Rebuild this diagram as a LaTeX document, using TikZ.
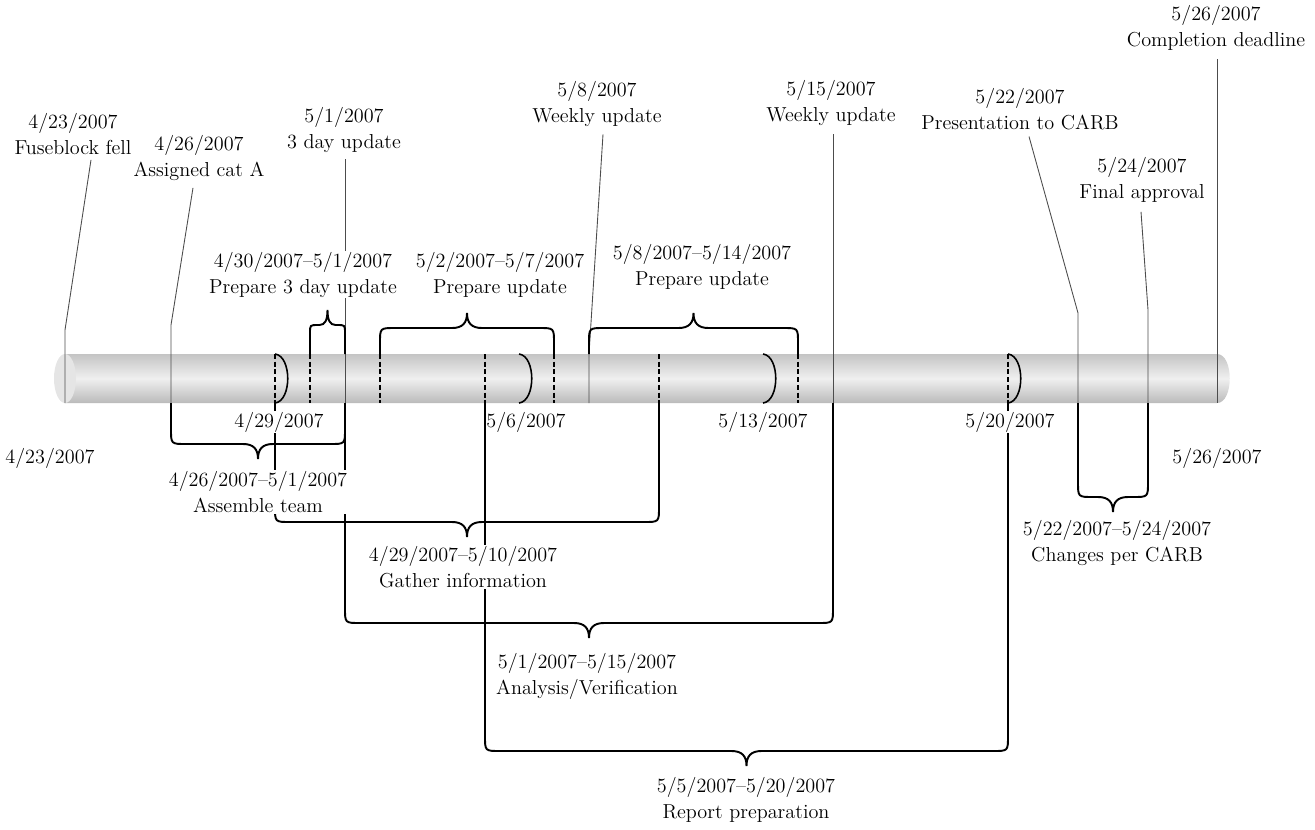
\documentclass[tikz,border=0pt]{standalone}
\usepackage{tikz}
\usetikzlibrary{backgrounds, calc}
% span brace: xl, xr, y at bar, y of the bar line, side (+1 below, -1 above), corner
\newcommand{\spanbrace}[6]{%
  \draw[brace] (#1,#3) -- ({#1},{#4-(#5)*#6})
    .. controls ({#1},{#4}) .. ({#1+#6},{#4})
    -- ({(#1+#2)/2-#6},{#4})
    .. controls ({(#1+#2)/2-0.3*#6},{#4}) and ({(#1+#2)/2},{#4+(#5)*5}) .. ({(#1+#2)/2},{#4+(#5)*15})
    .. controls ({(#1+#2)/2},{#4+(#5)*5}) and ({(#1+#2)/2+0.3*#6},{#4}) .. ({(#1+#2)/2+#6},{#4})
    -- ({#2-#6},{#4})
    .. controls ({#2},{#4}) .. ({#2},{#4-(#5)*#6})
    -- (#2,#3);}

\begin{document}
\begin{tikzpicture}[
  x=0.02cm, y=-0.02cm,
  font=\fontsize{11.5}{14.8}\selectfont,
  lbl/.style={fill=white, inner sep=0.5pt, align=center},
  mline/.style={black!70, line width=0.5pt},
  wkline/.style={black, line width=0.6pt, dash pattern=on 2.8pt off 1.6pt},
  wkcurve/.style={black, line width=0.9pt},
  brace/.style={black, line width=1.1pt}
]
  \useasboundingbox (0,0) rectangle (1315,829);

  % milestones
  \node[lbl] (fell)  at (73,134)    {4/23/2007\\Fuseblock fell};
  \node[lbl] (cata)  at (199,158)   {4/26/2007\\Assigned cat A};
  \node[lbl] (upd3)  at (344,129.5) {5/1/2007\\3 day update};
  \node[lbl] (wk1)   at (597,103.5) {5/8/2007\\Weekly update};
  \node[lbl] (wk2)   at (831,102.5) {5/15/2007\\Weekly update};
  \node[lbl] (carb)  at (1020,109.5) {5/22/2007\\Presentation to CARB};
  \node[lbl] (final) at (1142,180)  {5/24/2007\\Final approval};
  \node[lbl] (dead)  at (1216,27.5) {5/26/2007\\Completion deadline};

  % tasks above the bar
  \node[lbl] (prep3) at (303,274.5) {4/30/2007--5/1/2007\\Prepare 3 day update};
  \node[lbl] (prepa) at (500,274.5) {5/2/2007--5/7/2007\\Prepare update};
  \node[lbl] (prepb) at (702,266.5) {5/8/2007--5/14/2007\\Prepare update};

  % week marks and ends
  \node[lbl] (w0429) at (279,422)  {4/29/2007};
  \node[lbl] (w0506) at (526,422)  {5/6/2007};
  \node[lbl] (w0513) at (763,422)  {5/13/2007};
  \node[lbl] (w0520) at (1010,422) {5/20/2007};
  \node[lbl] (first) at (50,458)   {4/23/2007};
  \node[lbl] (last)  at (1217,458) {5/26/2007};

  % tasks below the bar
  \node[lbl] (team)   at (258,492)   {4/26/2007--5/1/2007\\Assemble team};
  \node[lbl] (gather) at (463,567)   {4/29/2007--5/10/2007\\Gather information};
  \node[lbl] (anal)   at (587,676)   {5/1/2007--5/15/2007\\Analysis/Verification};
  \node[lbl] (report) at (746,799.5) {5/5/2007--5/20/2007\\Report preparation};
  \node[lbl] (chg)    at (1117,543)  {5/22/2007--5/24/2007\\Changes per CARB};

  \begin{scope}[on background layer]
    % the bar
    \shade[top color=black!23, bottom color=black!27, middle color=black!6]
      (65,354) -- (1217,354) .. controls (1234,354) and (1234,403) .. (1217,403)
      -- (65,403) -- cycle;
    \fill[black!10] (65,378.5) ellipse [x radius=11, y radius=24.5];

    % milestone leaders
    \draw[mline] ($(fell.south)+(18,4)$) -- (65,330) -- (65,403);
    \draw[mline] ($(cata.south)+(-6,6)$) -- (171,325) -- (171,403);
    \draw[mline] ($(upd3.south)+(1,6)$) -- (345,403);
    \draw[mline] ($(wk1.south)+(6,7)$) -- (589,354) -- (589,403);
    \draw[mline] ($(wk2.south)+(2,8)$) -- (833,403);
    \draw[mline] ($(carb.south)+(9,5)$) -- (1078,313) -- (1078,403);
    \draw[mline] ($(final.south)+(-1,8)$) -- (1148,310) -- (1148,403);
    \draw[mline] ($(dead.south)+(1,8)$) -- (1217,403);

    % day marks inside the bar
    \foreach \x in {275,310,380,485,554,659,798,1008}
      \draw[wkline] (\x,354) -- (\x,403);
    \foreach \x in {275,519,763,1008}
      \draw[wkcurve] (\x,354) .. controls ({\x+17},356) and ({\x+17},401) .. (\x,403);

    % braces
    \spanbrace{310}{345}{354}{325}{-1}{8}
    \spanbrace{380}{554}{354}{328}{-1}{15}
    \spanbrace{589}{798}{354}{328}{-1}{15}
    \spanbrace{171}{345}{403}{444}{1}{15}
    \spanbrace{275}{659}{403}{522}{1}{15}
    \spanbrace{345}{833}{403}{623}{1}{15}
    \spanbrace{485}{1008}{403}{751}{1}{15}
    \spanbrace{1078}{1148}{403}{497}{1}{15}
  \end{scope}
\end{tikzpicture}
\end{document}
